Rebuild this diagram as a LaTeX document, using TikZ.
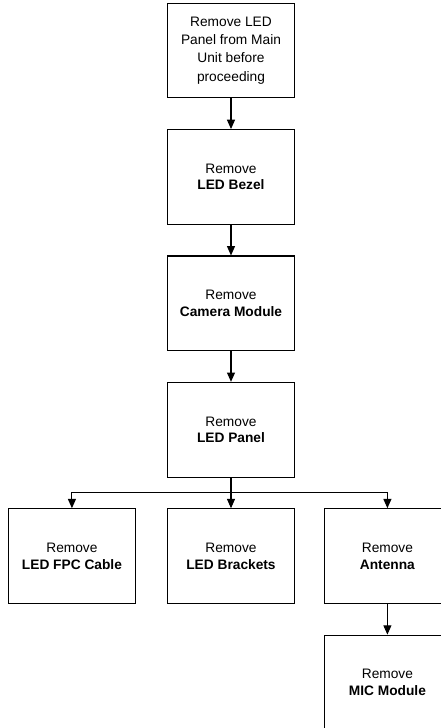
\documentclass[tikz,border=0pt]{standalone}
\usepackage{fontspec}
\setmainfont{Liberation Sans}
\usetikzlibrary{positioning,arrows.meta,calc}
\tikzset{
 box/.style={draw, line width=0.8pt, align=center, minimum width=95pt, minimum height=71pt,
             inner sep=2pt, font=\fontsize{10.3}{12.5}\selectfont},
 arr/.style={-{Triangle[length=7pt,width=6pt]}, line width=0.8pt},
 lin/.style={line width=0.8pt},
}
\begin{document}
\begin{tikzpicture}[x=0.75pt, y=-0.75pt, node distance=23pt]
\useasboundingbox (0,0) rectangle (441,728);
% main column
\node[box, font=\fontsize{10.3}{13.7}\selectfont] (unit) at (231,50.5)
 {Remove LED\\ Panel from Main\\ Unit before\\ proceeding};
\node[box, below=of unit] (bezel) {Remove\\ \textbf{LED Bezel}};
\node[box, below=of bezel] (camera) {Remove\\ \textbf{Camera Module}};
\node[box, below=of camera] (panel) {Remove\\ \textbf{LED Panel}};
% row of parts
\node[box, below=of panel] (brackets) {Remove\\ \textbf{LED Brackets}};
\node[box, left=23.5pt of brackets] (fpc) {Remove\\ \textbf{LED FPC Cable}};
\node[box, right=21.5pt of brackets] (antenna) {Remove\\ \textbf{Antenna}};
\node[box, below=of antenna] (mic) {Remove\\ \textbf{MIC Module}};
% arrows
\draw[arr] (unit) -- (bezel);
\draw[arr] (bezel) -- (camera);
\draw[arr] (camera) -- (panel);
\coordinate[below=11pt of panel.south] (split);
\draw[lin] (split -| fpc.north) -- (split -| antenna.north);
\draw[arr] (panel) -- (brackets);
\draw[arr] (split -| fpc.north) -- (fpc.north);
\draw[arr] (split -| antenna.north) -- (antenna.north);
\draw[arr] (antenna) -- (mic);
\end{tikzpicture}
\end{document}
